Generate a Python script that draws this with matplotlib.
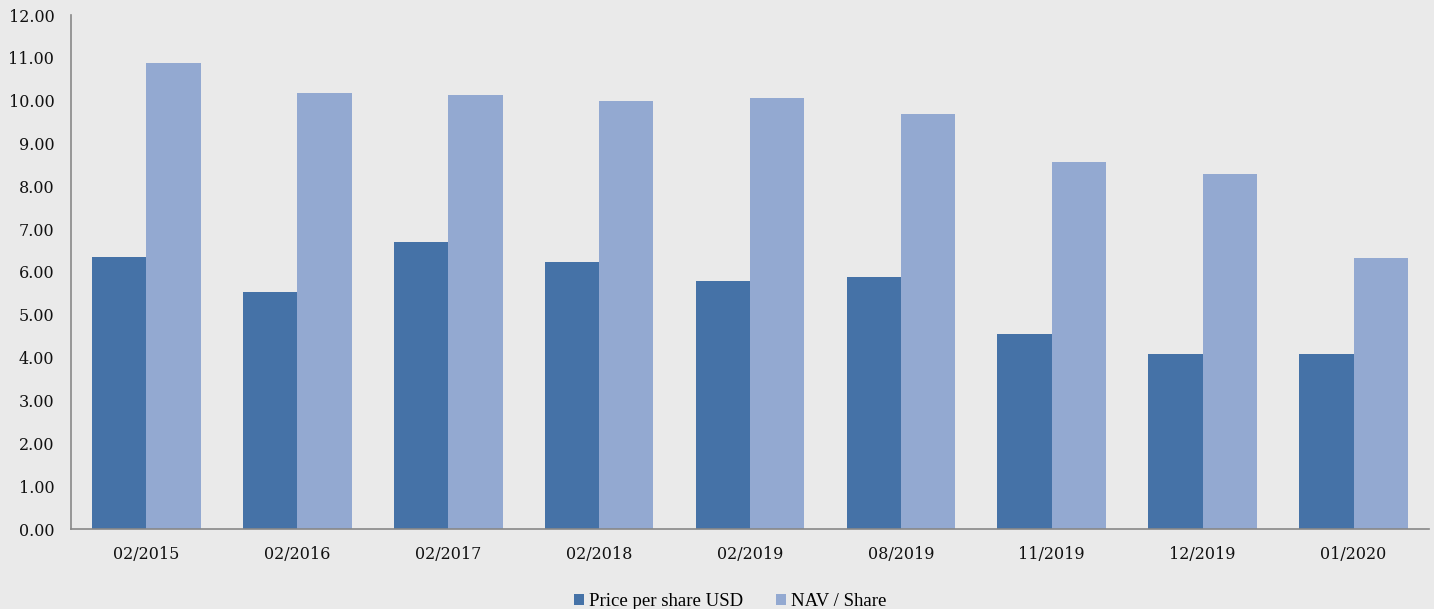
import numpy as np
import matplotlib
matplotlib.use('Agg')
import matplotlib.pyplot as plt

# data
dates = ['02/2015', '02/2016', '02/2017', '02/2018', '02/2019',
         '08/2019', '11/2019', '12/2019', '01/2020']
price = [6.35, 5.53, 6.70, 6.23, 5.79, 5.88, 4.55, 4.09, 4.09]
nav = [10.88, 10.18, 10.13, 9.99, 10.06, 9.69, 8.57, 8.29, 6.33]

bg = '#EAEAEA'
c_price = '#4572A7'
c_nav = '#93A9D1'

plt.rcParams['font.family'] = ['DejaVu Serif']

fig = plt.figure(figsize=(14.34, 6.09), dpi=100, facecolor=bg)
ax = fig.add_axes([71/1434, 1 - 529/609, (1429-71)/1434, (529-15)/609])
ax.set_facecolor(bg)

x = np.arange(len(dates))
w = 0.36
ax.bar(x - w/2, price, width=w, color=c_price, label='Price per share USD')
ax.bar(x + w/2, nav, width=w, color=c_nav, label='NAV / Share')

ax.set_xlim(-0.5, len(dates) - 0.5)
ax.set_ylim(0, 12)
ax.set_yticks(np.arange(0, 13, 1))
ax.set_yticklabels(['%.2f' % v for v in range(13)], fontsize=11.5)
ax.set_xticks(x)
ax.set_xticklabels(dates, fontsize=11.5)
ax.tick_params(length=0, colors='#111111')
ax.tick_params(axis='y', pad=12)
ax.tick_params(axis='x', pad=12)

for s in ['top', 'right']:
    ax.spines[s].set_visible(False)
for s in ['left', 'bottom']:
    ax.spines[s].set_color('#888888')
    ax.spines[s].set_linewidth(1.2)

fig.legend(loc='lower center', bbox_to_anchor=(0.509, -0.029), ncol=2,
           frameon=False, prop={'family': 'Liberation Serif', 'size': 13.5},
           handlelength=0.55, handleheight=0.55,
           handletextpad=0.25, columnspacing=1.75)

fig.savefig('out.png', dpi=100, facecolor=bg)
